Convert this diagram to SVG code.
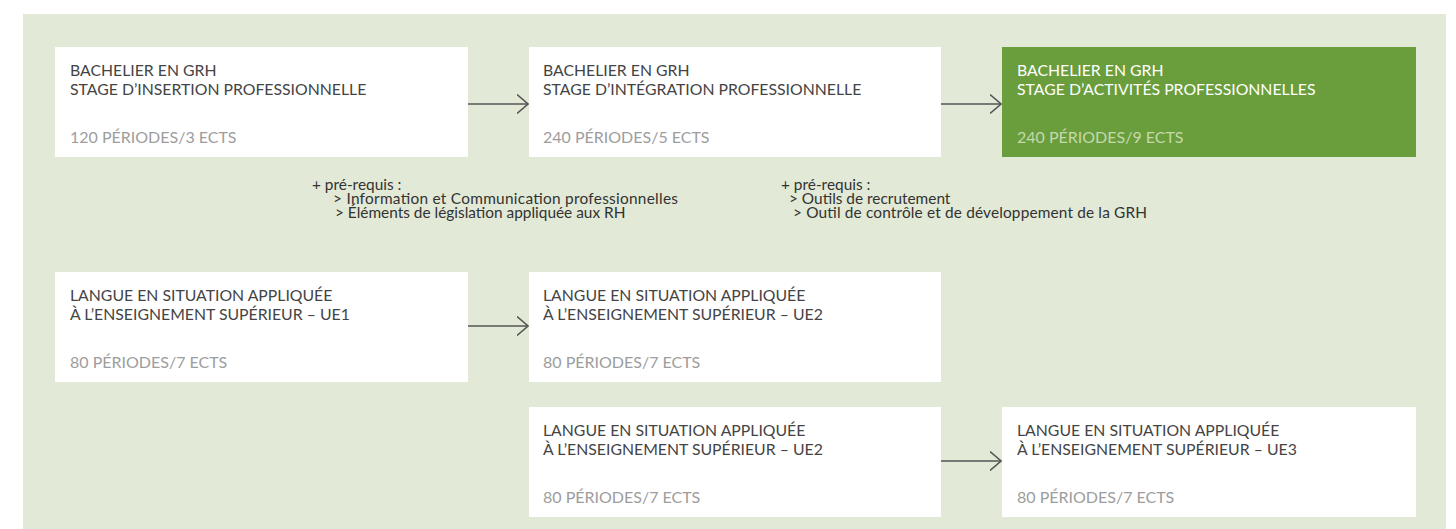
<svg xmlns="http://www.w3.org/2000/svg" width="1456" height="529" viewBox="0 0 1456 529">
<style>
.box{fill:#ffffff}
.boxg{fill:#6a9e3c}
.t{font-family:Lato,"Liberation Sans",sans-serif;font-size:15.8px;fill:#444444}
.tw{font-family:Lato,"Liberation Sans",sans-serif;font-size:15.8px;fill:#ffffff}
.p{font-family:Lato,"Liberation Sans",sans-serif;font-size:16px;fill:#9d9d9d}
.pg{font-family:Lato,"Liberation Sans",sans-serif;font-size:16px;fill:#c4d9ad}
.pre{font-family:Lato,"Liberation Sans",sans-serif;font-size:15.4px;fill:#333333}
.c{stroke:#555555;stroke-width:1.5;fill:none}
</style>
<defs>
<marker id="ah" viewBox="0 0 12 20" refX="11.5" refY="10" markerWidth="12" markerHeight="20" markerUnits="userSpaceOnUse" orient="auto">
<path d="M0.5,0.5 L11.5,10 L0.5,19.5" fill="none" stroke="#555555" stroke-width="1.5"/>
</marker>
</defs>
<rect x="23" y="14" width="1423" height="515" fill="#e2e9d6"/>
<g id="connectors">
<line class="c" x1="468" y1="104" x2="528" y2="104" marker-end="url(#ah)"/>
<line class="c" x1="941" y1="104" x2="1001" y2="104" marker-end="url(#ah)"/>
<line class="c" x1="468" y1="326" x2="528" y2="326" marker-end="url(#ah)"/>
<line class="c" x1="941" y1="461" x2="1001" y2="461" marker-end="url(#ah)"/>
</g>
<g id="n1">
<rect class="box" x="55" y="47" width="413" height="110"/>
<text class="t" x="70" y="76">BACHELIER EN GRH</text>
<text class="t" x="70" y="94.5">STAGE D’INSERTION PROFESSIONNELLE</text>
<text class="p" x="70" y="143">120 PÉRIODES/3 ECTS</text>
</g>
<g id="n2">
<rect class="box" x="529" y="47" width="412" height="110"/>
<text class="t" x="543" y="76">BACHELIER EN GRH</text>
<text class="t" x="543" y="94.5">STAGE D’INTÉGRATION PROFESSIONNELLE</text>
<text class="p" x="543" y="143">240 PÉRIODES/5 ECTS</text>
</g>
<g id="n3">
<rect class="boxg" x="1002" y="47" width="414" height="110"/>
<text class="tw" x="1017" y="76">BACHELIER EN GRH</text>
<text class="tw" x="1017" y="94.5">STAGE D’ACTIVITÉS PROFESSIONNELLES</text>
<text class="pg" x="1017" y="143">240 PÉRIODES/9 ECTS</text>
</g>
<g id="pre1">
<text class="pre" x="312" y="189.5">+ pré-requis :</text>
<text class="pre" x="333" y="203.5" textLength="345" lengthAdjust="spacing">&gt; Information et Communication professionnelles</text>
<text class="pre" x="335" y="217.5">&gt; Éléments de législation appliquée aux RH</text>
</g>
<g id="pre2">
<text class="pre" x="781" y="189.5">+ pré-requis :</text>
<text class="pre" x="789" y="203.5">&gt; Outils de recrutement</text>
<text class="pre" x="793" y="217.5" textLength="354" lengthAdjust="spacing">&gt; Outil de contrôle et de développement de la GRH</text>
</g>
<g id="n4">
<rect class="box" x="55" y="272" width="413" height="110"/>
<text class="t" x="70" y="301">LANGUE EN SITUATION APPLIQUÉE</text>
<text class="t" x="70" y="319.5">À L’ENSEIGNEMENT SUPÉRIEUR – UE1</text>
<text class="p" x="70" y="368">80 PÉRIODES/7 ECTS</text>
</g>
<g id="n5">
<rect class="box" x="529" y="272" width="412" height="110"/>
<text class="t" x="543" y="301">LANGUE EN SITUATION APPLIQUÉE</text>
<text class="t" x="543" y="319.5">À L’ENSEIGNEMENT SUPÉRIEUR – UE2</text>
<text class="p" x="543" y="368">80 PÉRIODES/7 ECTS</text>
</g>
<g id="n6">
<rect class="box" x="529" y="407" width="412" height="110"/>
<text class="t" x="543" y="436">LANGUE EN SITUATION APPLIQUÉE</text>
<text class="t" x="543" y="454.5">À L’ENSEIGNEMENT SUPÉRIEUR – UE2</text>
<text class="p" x="543" y="503">80 PÉRIODES/7 ECTS</text>
</g>
<g id="n7">
<rect class="box" x="1002" y="407" width="414" height="110"/>
<text class="t" x="1017" y="436">LANGUE EN SITUATION APPLIQUÉE</text>
<text class="t" x="1017" y="454.5">À L’ENSEIGNEMENT SUPÉRIEUR – UE3</text>
<text class="p" x="1017" y="503">80 PÉRIODES/7 ECTS</text>
</g>
</svg>
